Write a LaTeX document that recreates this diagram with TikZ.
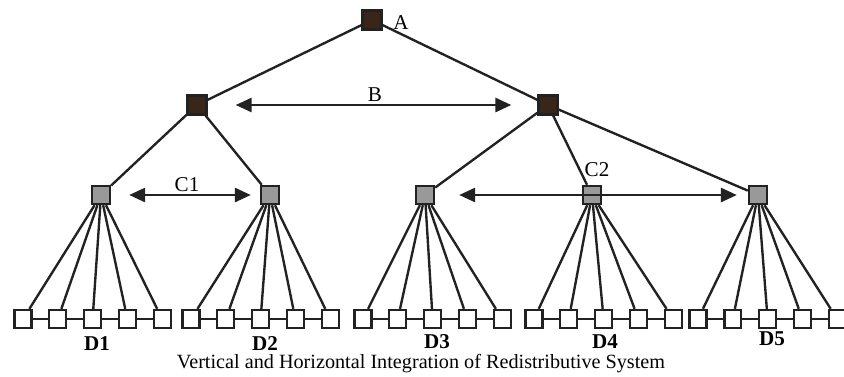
\documentclass[tikz,border=0pt]{standalone}
\usepackage{fontspec}
\setmainfont{Liberation Serif}
\usetikzlibrary{arrows.meta}
\definecolor{darkbrown}{HTML}{3A2519}
\definecolor{inkgray}{HTML}{222222}
\tikzstyle{topnode}=[draw,%
                     fill=darkbrown,%
                     rectangle,%
                     minimum size = 0.38cm,%
                     inner sep    = 0pt]
\tikzstyle{midnode}=[draw,fill=black!40,rectangle, minimum size=0.36cm,inner sep=0pt]
\tikzstyle{leaf}=[draw,fill=white,rectangle, minimum width=0.34cm,minimum height=0.36cm,inner sep=0pt]
\tikzstyle{label}=[inner sep=0pt,font=\fontsize{12}{14}\selectfont]
\tikzstyle{dlabel}=[inner sep=0pt,font=\fontsize{12}{14}\selectfont\bfseries]
\tikzstyle{both}=[{Triangle[length=0.32cm,width=0.28cm]}-{Triangle[length=0.32cm,width=0.28cm]},%
                  line width=1.6pt]

\begin{document}
\begin{tikzpicture}[x=0.02cm,y=-0.02cm,line width=1.35pt,draw=inkgray]
            \useasboundingbox (0,0) rectangle (844,376);
            % tree
            \node[topnode] (a)  at (372,20)  {};
            \node[topnode] (b1) at (197,105) {};
            \node[topnode] (b2) at (548,105) {};
            \node[midnode] (c1) at (101,195) {};
            \node[midnode] (c2) at (270,195) {};
            \node[midnode] (c3) at (425,195) {};
            \node[midnode] (c4) at (592,195) {};
            \node[midnode] (c5) at (758,195) {};
            \foreach \g/\x in {1/23,2/191,3/363,4/534,5/698}
              \foreach \i in {1,...,5}
                \node[leaf] (d\g\i) at ({\x+34.8*(\i-1)},319) {};
            \draw (a) -- (b1);
            \draw (a) -- (b2);
            \draw (b1) -- (c1);
            \draw (b1) -- (c2);
            \draw (b2) -- (c3);
            \draw (b2) -- (c4);
            \draw (b2) -- (c5);
            \foreach \g in {1,...,5} {
              \foreach \i in {1,...,5} \draw (c\g) -- (d\g\i);
              \foreach \i/\j in {1/2,2/3,3/4,4/5} \draw (d\g\i) -- (d\g\j);
            }
            % horizontal links
            \draw [both,shorten <=0.56cm,shorten >=0.52cm] (b1) -- (b2);
            \draw [both,shorten <=0.36cm,shorten >=0.18cm] (c1) -- (c2);
            \draw [both,shorten <=0.48cm,shorten >=0.22cm] (c3) -- (c5);
            % labels
            \node[label] (la)  at (401,23)  {A};
            \node[label] (lb)  at (375,95)  {B};
            \node[label] (lc1) at (187,185) {C1};
            \node[label] (lc2) at (597,170) {C2};
            \node[dlabel] (ld1) at (97,344)  {D1};
            \node[dlabel] (ld2) at (265,344) {D2};
            \node[dlabel] (ld3) at (437,342) {D3};
            \node[dlabel] (ld4) at (605,342) {D4};
            \node[dlabel] (ld5) at (772,339) {D5};
            \node[label,font=\fontsize{11.5}{13}\selectfont] (cap) at (421,364)
                 {Vertical and Horizontal Integration of Redistributive System};
  \end{tikzpicture}
\end{document}
